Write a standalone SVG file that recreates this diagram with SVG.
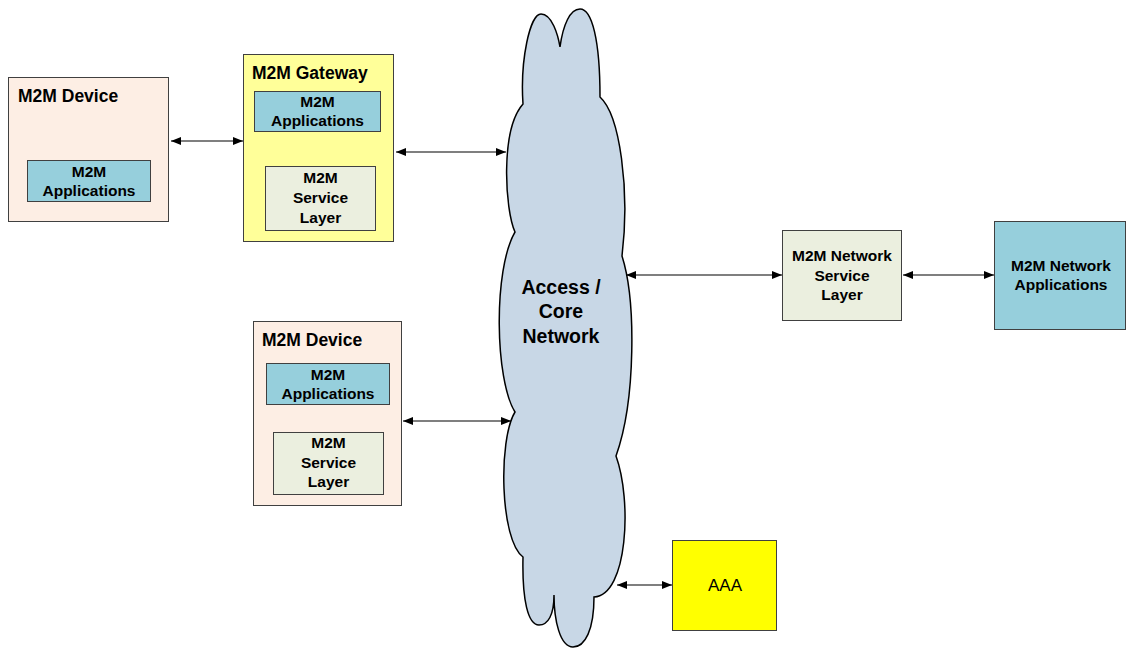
<svg xmlns="http://www.w3.org/2000/svg" width="1126" height="648" viewBox="0 0 1126 648">
<defs>
<marker id="ah" viewBox="0 0 10 8" refX="10" refY="4" markerWidth="11" markerHeight="8" markerUnits="userSpaceOnUse" orient="auto-start-reverse">
<path d="M0,0 L10,4 L0,8 Z" fill="#000"/>
</marker>
<style>
.box{stroke:#404040;stroke-width:1}
.dev{fill:#FDEEE4}
.gw{fill:#FFFF99}
.app{fill:#96CFDC}
.svc{fill:#EBEFDF}
.aaa{fill:#FFFF00}
.t{font-family:"Liberation Sans",Arial,sans-serif;font-weight:bold;fill:#000}
.title{font-size:17.5px}
.in{font-size:15.5px;text-anchor:middle}
.cl{font-size:19.5px;text-anchor:middle}
.conn{stroke:#000;stroke-width:1.2;fill:none;marker-start:url(#ah);marker-end:url(#ah)}
</style>
</defs>
<rect width="1126" height="648" fill="#fff"/>

<g id="cloud">
<path d="M523,104 C520,60 530,14 541,14 C552,14 558,35 560,47 C563,25 570,9 580,9 C592,9 600,40 600,97 C620,115 630,190 622,256 C636,300 636,400 616,456 C632,500 628,595 594,597 C594,630 585,647 573,647 C560,647 554,620 554,595 C554,615 548,625 539,625 C528,625 522,600 523,557 C500,540 498,440 515,412 C495,380 493,270 515,232 C505,210 500,130 523,104 Z" fill="#C8D7E6" stroke="#000" stroke-width="1.5"/>
<text class="t cl" x="561" y="294">Access /</text>
<text class="t cl" x="561" y="318">Core</text>
<text class="t cl" x="561" y="343">Network</text>
</g>

<g id="device1">
<rect class="box dev" x="8.5" y="77.5" width="160" height="144"/>
<text class="t title" x="18" y="102">M2M Device</text>
<rect class="box app" x="27.5" y="160.5" width="123" height="41"/>
<text class="t in" x="89" y="177">M2M</text>
<text class="t in" x="89" y="196">Applications</text>
</g>

<g id="gateway">
<rect class="box gw" x="243.5" y="54.5" width="150" height="187"/>
<text class="t title" x="252" y="79">M2M Gateway</text>
<rect class="box app" x="254.5" y="91.5" width="126" height="40"/>
<text class="t in" x="317.5" y="107">M2M</text>
<text class="t in" x="317.5" y="126">Applications</text>
<rect class="box svc" x="265.5" y="166.5" width="110" height="64"/>
<text class="t in" x="320.5" y="183">M2M</text>
<text class="t in" x="320.5" y="203">Service</text>
<text class="t in" x="320.5" y="223">Layer</text>
</g>

<g id="device2">
<rect class="box dev" x="253.5" y="321.5" width="148" height="184"/>
<text class="t title" x="262" y="346">M2M Device</text>
<rect class="box app" x="266.5" y="363.5" width="123" height="41"/>
<text class="t in" x="328" y="380">M2M</text>
<text class="t in" x="328" y="399">Applications</text>
<rect class="box svc" x="273.5" y="432.5" width="110" height="62"/>
<text class="t in" x="328.5" y="448">M2M</text>
<text class="t in" x="328.5" y="468">Service</text>
<text class="t in" x="328.5" y="487">Layer</text>
</g>

<g id="nsl">
<rect class="box svc" x="782.5" y="230.5" width="119" height="90"/>
<text class="t in" x="842" y="261">M2M Network</text>
<text class="t in" x="842" y="281">Service</text>
<text class="t in" x="842" y="300">Layer</text>
</g>

<g id="netapps">
<rect class="box app" x="994.5" y="221.5" width="131" height="108"/>
<text class="t in" x="1061" y="271">M2M Network</text>
<text class="t in" x="1061" y="290">Applications</text>
</g>

<g id="aaa">
<rect class="box aaa" x="672.5" y="540.5" width="104" height="90"/>
<text x="725" y="591" font-family="Liberation Sans,Arial,sans-serif" font-size="17" text-anchor="middle" fill="#000">AAA</text>
</g>

<g id="connectors">
<line class="conn" x1="171" y1="141" x2="243" y2="141"/>
<line class="conn" x1="396" y1="152" x2="506" y2="152"/>
<line class="conn" x1="403" y1="421" x2="511" y2="421"/>
<line class="conn" x1="626" y1="275" x2="782" y2="275"/>
<line class="conn" x1="903" y1="275" x2="994" y2="275"/>
<line class="conn" x1="617" y1="585" x2="672" y2="585"/>
</g>
</svg>
